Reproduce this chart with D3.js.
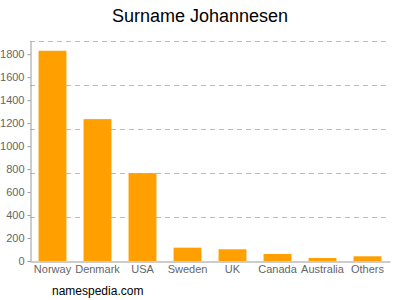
<!DOCTYPE html>
<html>
<head>
<meta charset="utf-8">
<script src="https://cdn.jsdelivr.net/npm/d3@7"></script>
<style>
  body { margin: 0; background: #fff; }
  text { font-family: "Liberation Sans", Arial, sans-serif; }
</style>
</head>
<body>
<script>
var countries = ["Norway", "Denmark", "USA", "Sweden", "UK", "Canada", "Australia", "Others"];
var counts = [1830, 1235, 765, 116, 102, 61, 26, 41];
var yTicks = [0, 200, 400, 600, 800, 1000, 1200, 1400, 1600, 1800];
var yMax = 1915;

var width = 400, height = 300;
var margin = {top: 41, right: 10, bottom: 39, left: 30};

var svg = d3.select("body")
    .append("svg")
    .attr("width", width)
    .attr("height", height);

var x = d3.scaleBand()
    .domain(countries)
    .range([margin.left, width - margin.right])
    .paddingInner(0.38)
    .paddingOuter(0.19);

var y = d3.scaleLinear()
    .domain([0, yMax])
    .range([height - margin.bottom, margin.top]);

// dashed gridlines, 5 equal parts of the axis
var grid = d3.range(1, 6).map(function(k){ return yMax * k / 5; });
svg.append("g")
    .selectAll("line")
    .data(grid)
    .enter()
    .append("line")
    .attr("x1", margin.left)
    .attr("x2", width - margin.right)
    .attr("y1", function(d){ return Math.round(y(d)) + 0.5; })
    .attr("y2", function(d){ return Math.round(y(d)) + 0.5; })
    .attr("stroke", "#bbb")
    .attr("stroke-dasharray", "5,4");

// bars
svg.append("g")
    .selectAll("rect")
    .data(countries)
    .enter()
    .append("rect")
    .attr("x", function(d){ return x(d); })
    .attr("width", x.bandwidth())
    .attr("y", function(d, i){ return y(counts[i]); })
    .attr("height", function(d, i){ return y(0) - y(counts[i]); })
    .attr("fill", "#ffa000");

// y axis
var yAxis = svg.append("g")
    .attr("transform", "translate(" + (margin.left + 0.5) + ",0)")
    .call(d3.axisLeft(y).tickValues(yTicks).tickFormat(d3.format("d"))
        .tickSize(3).tickSizeOuter(0).tickPadding(3));
yAxis.select(".domain").attr("stroke", "#999");
yAxis.selectAll(".tick line").attr("stroke", "#999");
yAxis.selectAll("text").attr("fill", "#666").style("font-size", "11px");

// x axis
var xAxis = svg.append("g")
    .attr("transform", "translate(0," + (y(0) + 0.5) + ")")
    .call(d3.axisBottom(x).tickSize(0).tickSizeOuter(0).tickPadding(4));
xAxis.select(".domain").attr("stroke", "#999");
xAxis.selectAll("text").attr("fill", "#666").style("font-size", "11px");

svg.append("text")
    .attr("x", 200)
    .attr("y", 22)
    .attr("text-anchor", "middle")
    .style("font-size", "18px")
    .attr("fill", "#000")
    .text("Surname Johannesen");

svg.append("text")
    .attr("x", 52)
    .attr("y", 295)
    .style("font-size", "12px")
    .attr("fill", "#000")
    .text("namespedia.com");
</script>
</body>
</html>
